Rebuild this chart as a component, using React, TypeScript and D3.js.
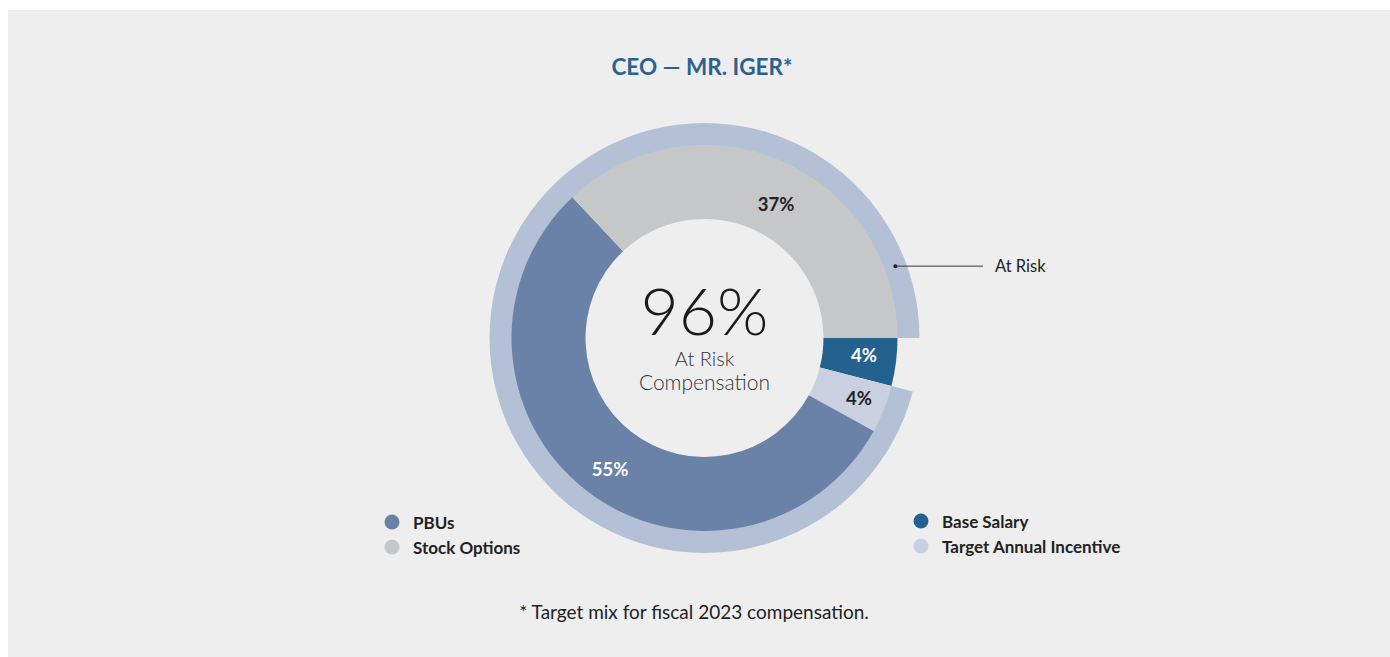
import React from "react";
import * as d3 from "d3";

const categories = ["Base Salary", "Target Annual Incentive", "PBUs", "Stock Options"];
const values = [4, 4, 55, 37];
const colors = ["#23628f", "#c9d1e0", "#6a82a8", "#c6c7c9"];
const labelColors = ["#ffffff", "#222222", "#ffffff", "#222222"];
const atRiskFlags = [false, true, true, true];
const atRiskTotal = 96;
const title = "CEO — MR. IGER*";
const footnote = "* Target mix for fiscal 2023 compensation.";
const legendLeft = ["PBUs", "Stock Options"];
const legendRight = ["Base Salary", "Target Annual Incentive"];

const W = 1390;
const H = 657;
const cx = 704.5;
const cy = 338;
const rInner = 119;
const rOuter = 193;
const rRing = 215;
const FONT = "'Lato', 'Open Sans', sans-serif";

export default function App() {
  const pie = d3
    .pie<number>()
    .sort(null)
    .startAngle(Math.PI / 2)
    .endAngle(Math.PI / 2 + 2 * Math.PI)(values);
  const arc = d3.arc<d3.PieArcDatum<number>>().innerRadius(rInner).outerRadius(rOuter);
  const firstRisk = atRiskFlags.indexOf(true);
  const ringStart = pie[firstRisk].startAngle;
  const ringEnd = pie[pie.length - 1].endAngle;
  const ringArc = d3.arc()({
    innerRadius: rOuter - 0.5,
    outerRadius: rRing,
    startAngle: ringStart,
    endAngle: ringEnd,
  } as any) as string;

  const labelPos = [
    [864 - cx, 355 - cy],
    [859 - cx, 398 - cy],
    [610 - cx, 469 - cy],
    [776 - cx, 204 - cy],
  ];
  const colorOf = (name: string) => colors[categories.indexOf(name)];

  const riskAngle = Math.PI / 2 - 0.36;
  const dotR = (rOuter + rRing) / 2;
  const dotX = cx + Math.sin(riskAngle) * dotR;
  const dotY = cy - Math.cos(riskAngle) * dotR;

  return (
    <svg width={W} height={H} style={{ position: "absolute", left: 0, top: 0, display: "block" }}>
      <rect x={0} y={0} width={W} height={H} fill="#ffffff" />
      <rect x={8} y={10} width={W - 8} height={H - 10} fill="#eeeeee" />
      <text x={702} y={75} textAnchor="middle" fontFamily={FONT} fontWeight={700} fontSize={22.5} fill="#2a6190">
        {title}
      </text>
      <g transform={`translate(${cx},${cy})`}>
        <path d={ringArc} fill="#b4c0d6" />
        {pie.map((d, i) => (
          <path key={categories[i]} d={arc(d) as string} fill={colors[i]} />
        ))}
        {pie.map((d, i) => (
          <text
            key={"l" + i}
            x={labelPos[i][0]}
            y={labelPos[i][1]}
            textAnchor="middle"
            dominantBaseline="central"
            fontFamily={FONT}
            fontWeight={700}
            fontSize={18.5}
            fill={labelColors[i]}
          >
            {values[i]}%
          </text>
        ))}
        <text x={0} y={-3} textAnchor="middle" fontFamily={FONT} fontWeight={300} fontSize={66} fill="#1a1a1a">
          {atRiskTotal}%
        </text>
        <text x={0} y={28} textAnchor="middle" fontFamily={FONT} fontWeight={300} fontSize={20} fill="#333">
          At Risk
        </text>
        <text x={0} y={52} textAnchor="middle" fontFamily={FONT} fontWeight={300} fontSize={21} fill="#333">
          Compensation
        </text>
      </g>
      <circle cx={dotX} cy={dotY} r={2} fill="#222" />
      <line x1={dotX} y1={dotY} x2={983} y2={dotY} stroke="#333" strokeWidth={1} />
      <text x={995} y={dotY} dominantBaseline="central" fontFamily={FONT} fontSize={16.5} fill="#222">
        At Risk
      </text>
      {legendLeft.map((name, i) => (
        <g key={name} transform={`translate(392,${522 + i * 25})`}>
          <circle r={7.5} fill={colorOf(name)} />
          <text x={21} dominantBaseline="central" fontFamily={FONT} fontWeight={700} fontSize={17} fill="#222">
            {name}
          </text>
        </g>
      ))}
      {legendRight.map((name, i) => (
        <g key={name} transform={`translate(921,${521 + i * 25})`}>
          <circle r={7.5} fill={colorOf(name)} />
          <text x={21} dominantBaseline="central" fontFamily={FONT} fontWeight={700} fontSize={17} fill="#222">
            {name}
          </text>
        </g>
      ))}
      <text x={694} y={619} textAnchor="middle" fontFamily={FONT} fontSize={19} fill="#222">
        {footnote}
      </text>
    </svg>
  );
}
